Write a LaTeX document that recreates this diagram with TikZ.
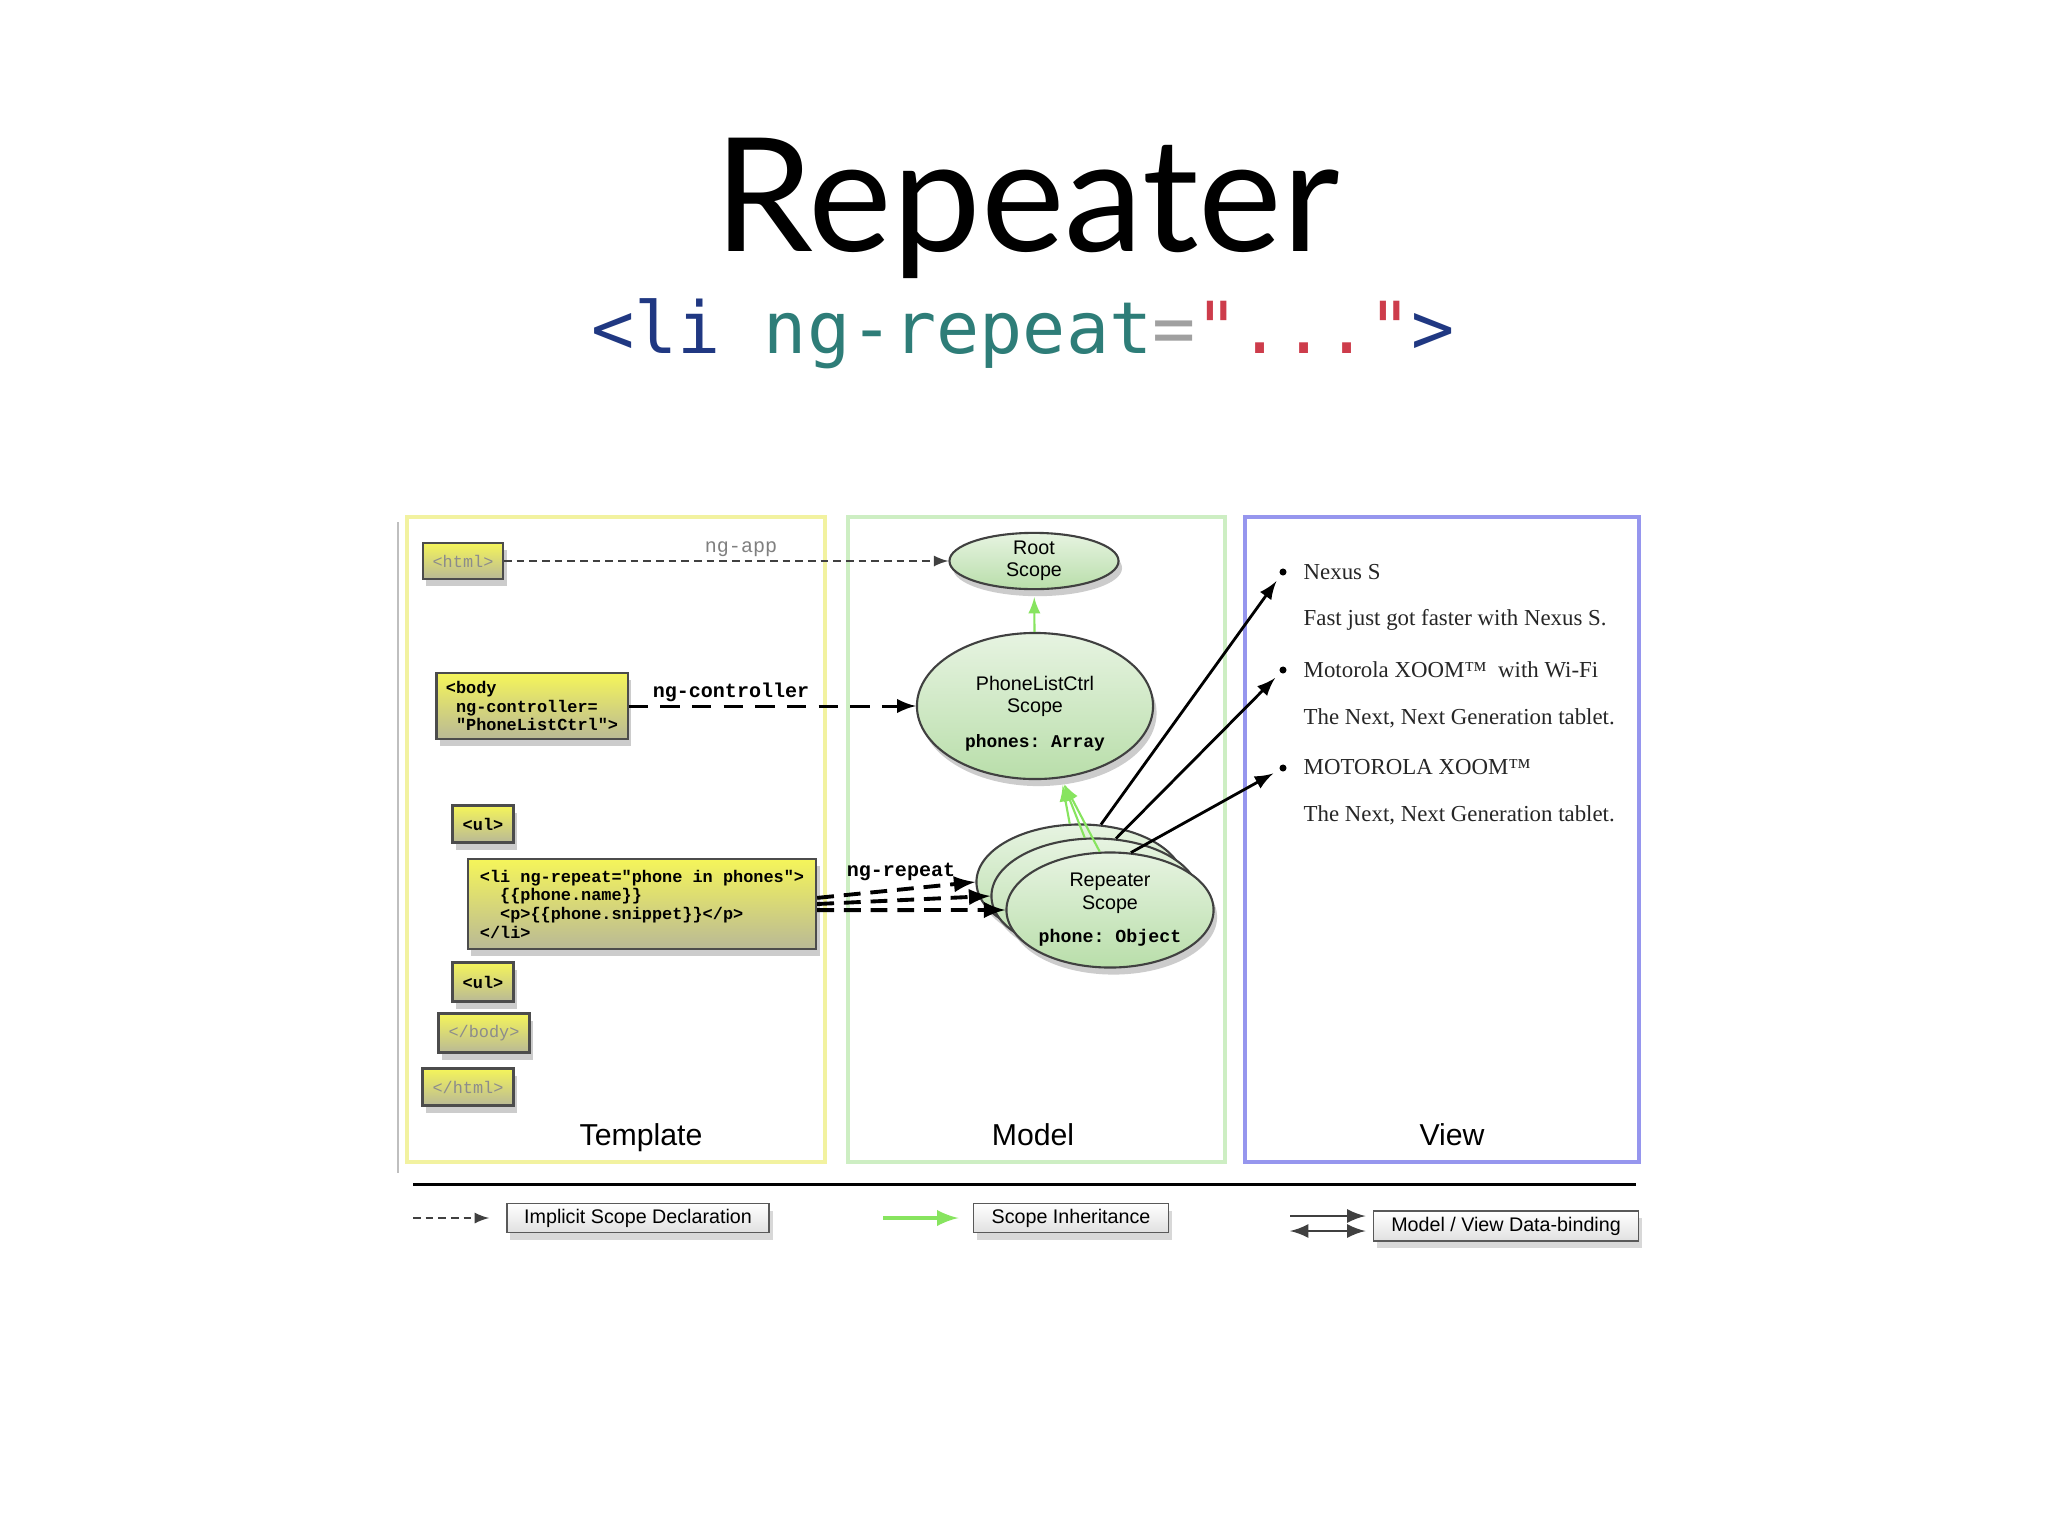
\documentclass[tikz,border=0pt]{standalone}
\usepackage{fontspec}
\setmainfont{Liberation Serif}
\setsansfont{Liberation Sans}
\setmonofont{Liberation Mono}
\newfontfamily\titlefont{Lato}
\newfontfamily\codefont{DejaVu Sans Mono}
\usetikzlibrary{shapes.geometric,shadows}

\definecolor{tagblue}{RGB}{32,56,130}
\definecolor{attrteal}{RGB}{46,125,120}
\definecolor{valred}{RGB}{205,60,75}
\definecolor{eqgray}{RGB}{160,160,160}
\definecolor{tmplyellow}{RGB}{242,242,160}
\definecolor{modelgreen}{RGB}{205,238,195}
\definecolor{viewblue}{RGB}{150,150,238}
\definecolor{boxyellow}{RGB}{245,245,90}
\definecolor{boxbottom}{RGB}{185,185,150}
\definecolor{scopegreen}{RGB}{185,222,170}
\definecolor{inheritgreen}{RGB}{135,228,95}

\begin{document}
\begin{tikzpicture}[>=latex, x=0.01cm, y=-0.01cm,
  tagbox/.style={rectangle, draw=black!70, line width=0.6pt,
    top color=boxyellow, bottom color=boxbottom,
    drop shadow={shadow xshift=1pt, shadow yshift=-2pt, opacity=0.4},
    font=\ttfamily\bfseries\fontsize{4.8}{5.3}\selectfont,
    align=left, inner sep=1.5pt},
  graytag/.style={tagbox, font=\ttfamily\fontsize{4.8}{5.3}\selectfont, text=black!45},
  scope/.style={ellipse, draw=black!75, line width=0.6pt,
    top color=scopegreen!35, bottom color=scopegreen,
    drop shadow={shadow xshift=1pt, shadow yshift=-2pt, opacity=0.4},
    font=\sffamily\fontsize{5.6}{6.3}\selectfont, align=center, inner sep=0pt},
  repsize/.style={minimum width=2.07cm, minimum height=1.15cm},
  codelabel/.style={font=\ttfamily\bfseries\fontsize{5.7}{6}\selectfont, inner sep=0pt},
  implicit/.style={->, draw=black!75, line width=0.45pt, dash pattern=on 2.2pt off 1.4pt},
  ctrlline/.style={->, line width=0.85pt, dash pattern=on 5.5pt off 3.5pt},
  repeatline/.style={->, line width=1.1pt, dash pattern=on 4.8pt off 2.8pt},
  inherit/.style={->, draw=inheritgreen, line width=0.6pt, shorten >=2pt},
  bind/.style={->, line width=0.8pt, shorten >=2pt},
  bulletdot/.style={circle, fill=black, inner sep=0pt, minimum size=2pt},
  viewtext/.style={font=\fontsize{6.5}{7.5}\selectfont, anchor=west, inner sep=0pt, text=black!85},
  legendbox/.style={rectangle, draw=black!65, line width=0.5pt,
    top color=white, bottom color=black!12,
    drop shadow={shadow xshift=1pt, shadow yshift=-2pt, opacity=0.3},
    font=\sffamily\fontsize{5.6}{6}\selectfont, inner sep=0pt},
  paneltitle/.style={font=\sffamily\fontsize{8.6}{10}\selectfont, anchor=base}]

  % Page.
  \fill[white] (0,0) rectangle (2048,1536);
  \useasboundingbox (0,0) rectangle (2048,1536);

  % Heading and the directive.
  \node[anchor=base, inner sep=0pt, font=\titlefont\fontsize{45}{50}\selectfont]
    (title) at (1027,251) {Repeater};
  \node[anchor=base, inner sep=0pt, font=\codefont\fontsize{20.4}{24}\selectfont]
    (directive) at (1023,353)
    {\textcolor{tagblue}{<li} \textcolor{attrteal}{ng-repeat}\textcolor{eqgray}{=}\textcolor{valred}{"..."}\textcolor{tagblue}{>}};

  % The three panels.
  \draw[black!25, line width=0.5pt] (398,522) -- (398,1173);
  \draw[tmplyellow, line width=0.9pt] (407,517) rectangle (825,1162);
  \draw[modelgreen, line width=0.9pt] (848,517) rectangle (1225,1162);
  \draw[viewblue, line width=0.9pt] (1245,517) rectangle (1639,1162);
  \node[paneltitle] (tmpltitle) at (641,1145) {Template};
  \node[paneltitle] (modeltitle) at (1033,1145) {Model};
  \node[paneltitle] (viewtitle) at (1452,1145) {View};

  % Template tags.
  \node[graytag, minimum width=0.8cm, minimum height=0.36cm] (html) at (463,561) {<html>};
  \node[tagbox, minimum width=1.91cm, minimum height=0.66cm] (body) at (532,706)
    {<body\\~ng-controller=\\~"PhoneListCtrl">};
  \node[tagbox, minimum width=0.61cm, minimum height=0.37cm] (ulopen) at (483,824) {<ul>};
  \node[tagbox, minimum width=3.48cm, minimum height=0.9cm] (li) at (642,904)
    {<li ng-repeat="phone in phones">\\~~\{\{phone.name\}\}\\~~<p>\{\{phone.snippet\}\}</p>\\</li>};
  \node[tagbox, minimum width=0.61cm, minimum height=0.39cm] (ulclose) at (483,982) {<ul>};
  \node[graytag, minimum width=0.91cm, minimum height=0.39cm] (bodyclose) at (484,1033) {</body>};
  \node[graytag, minimum width=0.91cm, minimum height=0.37cm] (htmlclose) at (468,1087) {</html>};

  % Model scopes.
  \node[scope, minimum width=1.69cm, minimum height=0.52cm] (root) at (1034,561) {Root\\Scope};
  \node[scope, minimum width=2.36cm, minimum height=1.46cm] (plc) at (1035,706)
    {\rule{0pt}{8.4pt}PhoneListCtrl\\Scope\\[3.4pt]{\ttfamily\bfseries\fontsize{5.1}{6}\selectfont phones: Array}};
  \node[scope, repsize] (repA) at (1080,882) {};
  \node[scope, repsize] (repB) at (1095,896) {};
  \node[scope, repsize] (repC) at (1110,910)
    {Repeater\\Scope\\[3.3pt]{\ttfamily\bfseries\fontsize{5.2}{6}\selectfont phone: Object}};

  % View list.
  \node[bulletdot] (b1) at (1283,572) {};
  \node[bulletdot] (b2) at (1283,670) {};
  \node[bulletdot] (b3) at (1283,768) {};
  \node[viewtext] (nexus) at (1303,572) {Nexus S};
  \node[viewtext] (nexusdesc) at (1303,620) {Fast just got faster with Nexus S.};
  \node[viewtext] (xoomwifi) at (1303,670) {Motorola XOOM™~ with Wi-Fi};
  \node[viewtext] (xoomwifidesc) at (1303,718) {The Next, Next Generation tablet.};
  \node[viewtext] (xoom) at (1303,767) {MOTOROLA XOOM™};
  \node[viewtext] (xoomdesc) at (1303,815) {The Next, Next Generation tablet.};

  % Implicit scope declarations.
  \draw[implicit] (html) -- (root);
  \node[codelabel, font=\ttfamily\fontsize{5.7}{6}\selectfont, text=black!50] (ngapp) at (741,549) {ng-app};
  \draw[ctrlline] (body) -- (plc);
  \node[codelabel] (ngctrl) at (731,692) {ng-controller};
  \foreach \n/\a in {repA/2, repB/0, repC/-2}
    \draw[repeatline] (li.\a) -- (\n.west);
  \node[codelabel] (ngrepeat) at (901,872) {ng-repeat};

  % Scope inheritance.
  \draw[inherit] (plc) -- (root);
  \foreach \n in {repA,repB,repC}
    \draw[inherit] (\n.100) -- (plc.-70);

  % Model / view binding.
  \foreach \n/\b in {repA/b1, repB/b2, repC/b3}
    \draw[bind] (\n.70) -- (\b);

  % Legend.
  \draw[line width=0.85pt] (413,1184) -- (1636,1184);
  \node[legendbox, minimum width=2.62cm, minimum height=0.29cm] (impl) at (638,1218) {Implicit Scope Declaration};
  \node[legendbox, minimum width=1.95cm, minimum height=0.29cm] (inh) at (1071,1218) {Scope Inheritance};
  \node[legendbox, minimum width=2.65cm, minimum height=0.30cm] (bindbox) at (1506,1226) {Model / View Data-binding};
  \coordinate (legimpl) at (413,1218);
  \coordinate (leginh) at (883,1218);
  \coordinate (legbindA) at (1290,1216);
  \coordinate (legbindB) at (1290,1231);
  \draw[implicit, shorten >=4.8pt] (legimpl) -- (impl.west);
  \draw[inherit, line width=1.1pt, shorten >=4pt] (leginh) -- (inh.west);
  \draw[->, draw=black!75, line width=0.8pt, shorten >=2pt] (legbindA) -- (legbindA -| bindbox.west);
  \draw[<->, draw=black!75, line width=0.8pt, shorten >=2pt] (legbindB) -- (legbindB -| bindbox.west);
\end{tikzpicture}
\end{document}
